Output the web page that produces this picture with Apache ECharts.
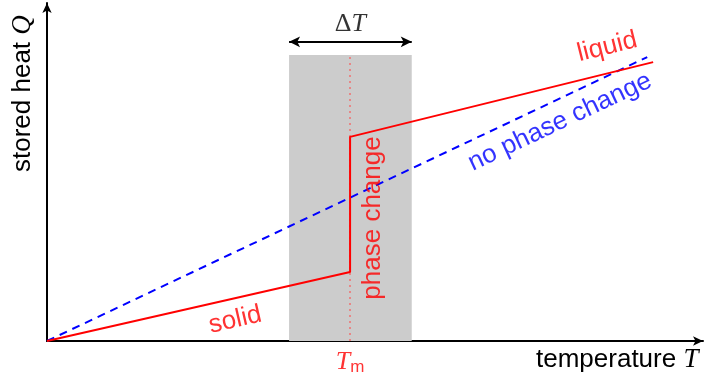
<!DOCTYPE html>
<html><head><meta charset="utf-8">
<script src="https://cdn.jsdelivr.net/npm/echarts@6/dist/echarts.min.js"></script>
<style>html,body{margin:0;padding:0;background:#fff}#c{width:705px;height:383px}</style>
</head><body><div id="c"></div>
<script>
// ---- data (schematic units) ----
const xMax = 10, yMax = 10;
const Tm = 4.62;
const bandX = [3.69, 5.56];
const bandTop = 8.46;
const deltaArrowY = 8.85;
const withPhaseChange = [[0, 0], [4.62, 2.04], [4.62, 6.04], [9.24, 8.25]];
const noPhaseChange = [[0, 0], [9.15, 8.40]];
// annotation anchors: [x, y]
const solidPos = [2.87, 0.62];
const phasePos = [4.97, 3.64];
const liquidPos = [8.54, 8.70];
const noPhasePos = [7.82, 6.48];

const sans = '"Liberation Sans", Arial, sans-serif';
const serif = '"Liberation Serif", "DejaVu Serif", serif';
const FS = 26;

const chart = echarts.init(document.getElementById('c'));
function txt(pos, text, color, rot) {
  return { value: pos, label: { show: true, formatter: text, color: color, rotate: rot,
    fontFamily: sans, fontSize: FS, position: 'inside' } };
}
chart.setOption({
  animation: false,
  grid: { left: 47, right: 2, top: 3, bottom: 42 },
  xAxis: { type: 'value', min: 0, max: xMax,
    axisLine: { onZero: true, lineStyle: { color: '#000', width: 2 }, symbol: ['none', 'arrow'], symbolSize: [7, 10] },
    axisTick: { show: false }, axisLabel: { show: false }, splitLine: { show: false } },
  yAxis: { type: 'value', min: 0, max: yMax,
    axisLine: { show: true, lineStyle: { color: '#000', width: 2 }, symbol: ['none', 'arrow'], symbolSize: [7, 10] },
    axisTick: { show: false }, axisLabel: { show: false }, splitLine: { show: false } },
  series: [
    { type: 'line', data: [], silent: true, z: 1,
      markArea: { silent: true, z: 1, itemStyle: { color: '#cccccc' },
        data: [[{ coord: [bandX[0], 0] }, { coord: [bandX[1], bandTop] }]] },
      markLine: { silent: true, z: 1, symbol: ['none', 'none'], label: { show: false },
        data: [
          [{ coord: [Tm, 0], lineStyle: { color: '#f07070', width: 1.5, type: [2, 4] } }, { coord: [Tm, bandTop] }],
        ] } },
    { type: 'line', data: [], silent: true,
      markLine: { silent: true, symbol: ['arrow', 'arrow'], symbolSize: [8, 11], label: { show: false },
        lineStyle: { color: '#000', width: 2, type: 'solid' },
        data: [[{ coord: [bandX[0], deltaArrowY] }, { coord: [bandX[1], deltaArrowY] }]] } },
    { type: 'line', data: noPhaseChange, symbol: 'none', z: 3,
      lineStyle: { color: '#0000ff', width: 2, type: [8, 6] } },
    { type: 'line', data: withPhaseChange, symbol: 'none', z: 4,
      lineStyle: { color: '#ff0000', width: 2 } },
    { type: 'scatter', symbolSize: 0, z: 5, silent: true,
      data: [
        txt(solidPos, 'solid', '#ff0000', 12.8),
        txt(phasePos, 'phase change', '#ff0000', 90),
        txt(liquidPos, 'liquid', '#ff0000', 14),
        txt(noPhasePos, 'no phase change', '#0000ff', 25.2),
        { value: [Tm, 0], label: { show: true, position: 'bottom', distance: 8,
          formatter: '{t|T}{m|m}', rich: {
            t: { fontFamily: serif, fontStyle: 'italic', fontSize: 26, color: '#ff0000' },
            m: { fontFamily: sans, fontSize: 17, color: '#ff0000', padding: [10, 0, 0, 0] } } } },
        { value: [(bandX[0] + bandX[1]) / 2, deltaArrowY], label: { show: true, position: 'top', distance: 5,
          formatter: '{d|Δ}{t|T}', rich: {
            d: { fontFamily: serif, fontSize: 26, color: '#000' },
            t: { fontFamily: serif, fontStyle: 'italic', fontSize: 26, color: '#000' } } } }
      ] }
  ],
  graphic: [
    { type: 'text', left: 536, top: 346,
      style: { text: '{a|temperature }{b|T}', rich: {
        a: { fontFamily: sans, fontSize: FS, fill: '#000' },
        b: { fontFamily: serif, fontStyle: 'italic', fontSize: 27, fill: '#000' } } } },
    { type: 'text', x: 9, y: 172, rotation: Math.PI / 2,
      style: { text: '{a|stored heat }{b|Q}', rich: {
        a: { fontFamily: sans, fontSize: FS, fill: '#000' },
        b: { fontFamily: serif, fontStyle: 'italic', fontSize: 27, fill: '#000' } } } }
  ]
});
</script></body></html>
